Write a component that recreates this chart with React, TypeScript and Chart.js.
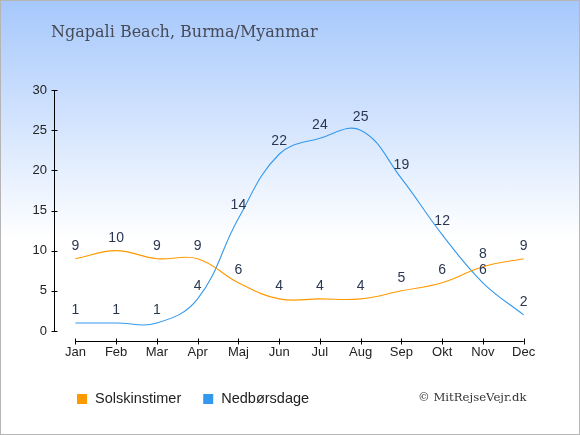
import React, { useEffect, useRef } from "react";
import { Chart, registerables } from "chart.js";

Chart.register(...registerables);

const months = ["Jan", "Feb", "Mar", "Apr", "Maj", "Jun", "Jul", "Aug", "Sep", "Okt", "Nov", "Dec"];
const sunHours = [9, 10, 9, 9, 6, 4, 4, 4, 5, 6, 8, 9];
const rainDays = [1, 1, 1, 4, 14, 22, 24, 25, 19, 12, 6, 2];
const yTicks = [0, 5, 10, 15, 20, 25, 30];

const titleText = "Ngapali Beach, Burma/Myanmar";
const creditText = "© MitRejseVejr.dk";

const SUN_COLOR = "#ff9900";
const RAIN_COLOR = "#3399ee";
const LABEL_COLOR = "#2b3752";

// axes, value labels, legend and texts drawn on top of the chart
const decorPlugin = {
  id: "decor",
  afterDatasetsDraw(chart: any) {
    const ctx = chart.ctx;
    const x = chart.scales.x;
    const y = chart.scales.y;
    ctx.save();

    // y axis
    ctx.strokeStyle = "#000";
    ctx.lineWidth = 1;
    const ax = Math.round(chart.chartArea.left) - 0.5;
    ctx.beginPath();
    ctx.moveTo(ax, y.getPixelForValue(0));
    ctx.lineTo(ax, y.getPixelForValue(30));
    yTicks.forEach((t) => {
      const py = Math.round(y.getPixelForValue(t)) + 0.5;
      ctx.moveTo(ax - 3, py);
      ctx.lineTo(ax + 3, py);
    });
    ctx.stroke();

    // x axis, a little below the zero line
    const ay = Math.round(y.getPixelForValue(0)) + 10.5;
    ctx.beginPath();
    ctx.moveTo(x.getPixelForValue(0), ay);
    ctx.lineTo(x.getPixelForValue(months.length - 1), ay);
    months.forEach((_, i) => {
      const px = Math.round(x.getPixelForValue(i)) + 0.5;
      ctx.moveTo(px, ay - 3);
      ctx.lineTo(px, ay + 3);
    });
    ctx.stroke();

    // value labels
    ctx.fillStyle = LABEL_COLOR;
    ctx.font = "14px 'Liberation Sans', Arial, sans-serif";
    ctx.textAlign = "center";
    ctx.textBaseline = "middle";
    chart.data.datasets.forEach((ds: any, di: number) => {
      const meta = chart.getDatasetMeta(di);
      meta.data.forEach((pt: any, i: number) => {
        ctx.fillText(String(ds.data[i]), pt.x, pt.y - 13);
      });
    });

    // legend
    ctx.font = "14.5px 'Liberation Sans', Arial, sans-serif";
    ctx.textAlign = "left";
    let lx = 76;
    chart.data.datasets.forEach((ds: any) => {
      ctx.fillStyle = ds.borderColor;
      ctx.fillRect(lx, 393, 10, 10);
      ctx.fillStyle = "#222";
      ctx.fillText(ds.label, lx + 18, 398);
      lx += 18 + ctx.measureText(ds.label).width + 22;
    });

    // title and credit
    ctx.fillStyle = "#474b57";
    ctx.font = "16px 'DejaVu Serif', serif";
    ctx.fillText(titleText, 50, 32);
    ctx.fillStyle = "#333";
    ctx.font = "11.7px 'DejaVu Serif', serif";
    ctx.fillText(creditText, 417, 397);

    ctx.restore();
  },
};

function ClimateChart() {
  const canvasRef = useRef<HTMLCanvasElement | null>(null);
  const chartRef = useRef<Chart | null>(null);

  useEffect(() => {
    document.body.style.margin = "0";
    const ctx = canvasRef.current?.getContext("2d");
    if (!ctx) return;
    if (chartRef.current) chartRef.current.destroy();

    chartRef.current = new Chart(ctx, {
      type: "line",
      data: {
        labels: months,
        datasets: [
          {
            label: "Solskinstimer",
            data: sunHours,
            borderColor: SUN_COLOR,
            borderWidth: 1.1,
            pointRadius: 0,
            tension: 0.4,
            fill: false,
          },
          {
            label: "Nedbørsdage",
            data: rainDays,
            borderColor: RAIN_COLOR,
            borderWidth: 1.1,
            pointRadius: 0,
            tension: 0.4,
            fill: false,
          },
        ],
      },
      options: {
        animation: false,
        responsive: false,
        layout: { padding: { left: 14, right: 35, top: 89, bottom: 73 } },
        plugins: {
          legend: { display: false },
          title: { display: false },
          tooltip: { enabled: false },
        },
        scales: {
          x: {
            offset: true,
            grid: { display: false, drawTicks: false },
            border: { display: false },
            ticks: {
              padding: 14,
              color: "#222",
              font: { size: 13, family: "'Liberation Sans', Arial, sans-serif" },
            },
            afterFit: (s: any) => {
              s.height = 30;
            },
          },
          y: {
            min: 0,
            max: 30,
            grid: { display: false, drawTicks: false },
            border: { display: false },
            ticks: {
              stepSize: 5,
              padding: 8,
              color: "#222",
              font: { size: 13, family: "'Liberation Sans', Arial, sans-serif" },
            },
            afterFit: (s: any) => {
              s.width = 40;
            },
          },
        },
      },
      plugins: [decorPlugin],
    });

    return () => {
      if (chartRef.current) {
        chartRef.current.destroy();
        chartRef.current = null;
      }
    };
  }, []);

  return (
    <div
      style={{
        position: "absolute",
        left: 0,
        top: 0,
        width: 580,
        height: 435,
        boxSizing: "border-box",
        border: "1px solid #b5b5b5",
        background: "linear-gradient(#a6c8fc 0%, #ffffff 55%)",
      }}
    >
      <canvas
        ref={canvasRef}
        width={578}
        height={433}
        style={{ display: "block" }}
      ></canvas>
    </div>
  );
}

export default function App() {
  return <ClimateChart />;
}
